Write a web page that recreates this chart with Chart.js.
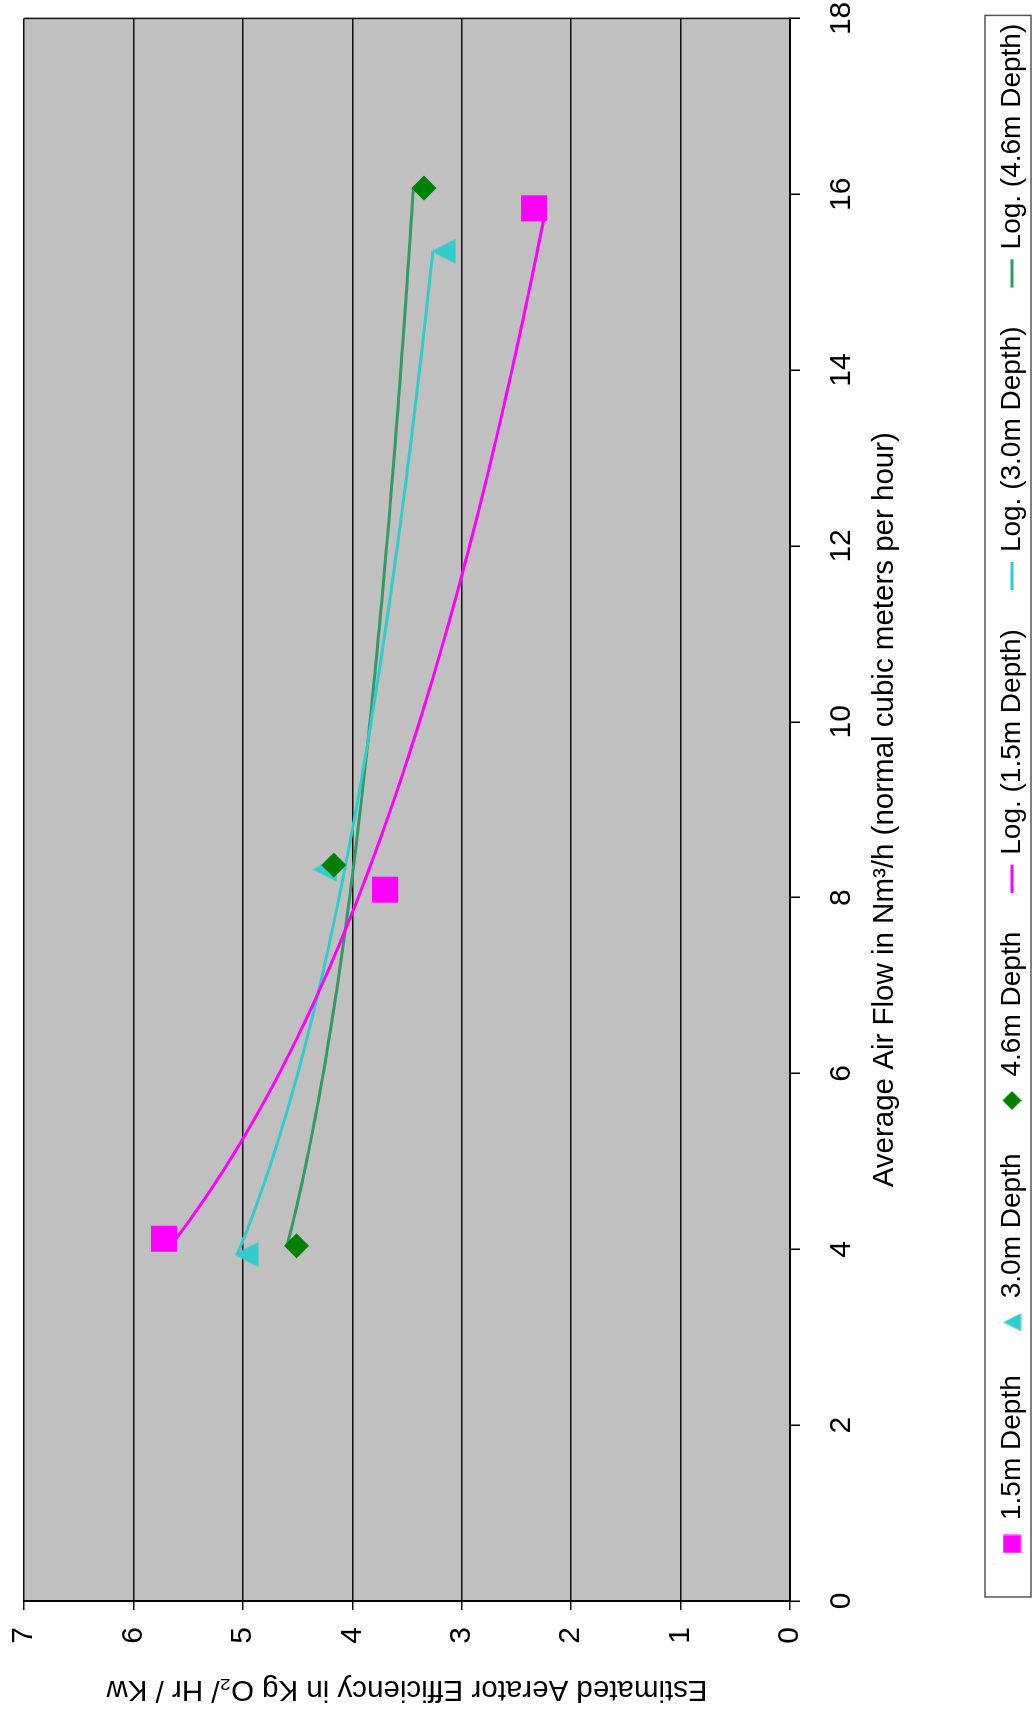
<!DOCTYPE html>
<html>
<head>
<meta charset="utf-8">
<title>Aerator efficiency vs air flow</title>
<script src="https://cdn.jsdelivr.net/npm/chart.js@4.4.1/dist/chart.umd.min.js"></script>
<style>
  html, body { margin: 0; padding: 0; background: #fff; overflow: hidden; }
  #page { position: absolute; left: 0; top: 0; width: 1032px; height: 1717px; overflow: hidden; }
  /* the chart is laid out landscape and turned a quarter turn counter-clockwise */
  #frame { position: absolute; left: 0; top: 0; width: 1717px; height: 1032px;
           transform-origin: 0 0; transform: translate(0, 1717px) rotate(-90deg); }
  canvas { display: block; }
</style>
</head>
<body>
<div id="page"><div id="frame"><canvas id="chart" width="1717" height="1032"></canvas></div></div>
<script>
// Measured aerator data: air flow (Nm3/h) and efficiency (kg O2 / hr / kW)
const flow15 = [4.12, 8.09, 15.84];
const eff15  = [5.72, 3.70, 2.34];
const flow30 = [3.94, 8.32, 15.35];
const eff30  = [4.97, 4.25, 3.165];
const flow46 = [4.04, 8.37, 16.07];
const eff46  = [4.51, 4.17, 3.345];

const seriesLabels = ['1.5m Depth', '3.0m Depth', '4.6m Depth'];
const trendLabels  = ['Log. (1.5m Depth)', 'Log. (3.0m Depth)', 'Log. (4.6m Depth)'];
const flowTicks = [0, 2, 4, 6, 8, 10, 12, 14, 16, 18];
const effTicks  = [0, 1, 2, 3, 4, 5, 6, 7];
const xTitle = 'Average Air Flow in Nm\u00B3/h (normal cubic meters per hour)';
const yTitle = 'Estimated Aerator Efficiency in Kg O\u2082/ Hr / Kw';

const markerColors = ['#FF00FF', '#33CCCC', '#008000'];
const trendColors  = ['#FF00FF', '#33CCCC', '#339966'];

Chart.defaults.font.family = "'Liberation Sans', Arial, Helvetica, sans-serif";
Chart.defaults.color = '#000';

// least-squares fit y = a ln(x) + b, as used by a logarithmic trendline
function logFit(xs, ys) {
  const lx = xs.map(Math.log);
  const n = xs.length;
  const mx = lx.reduce((s, v) => s + v, 0) / n;
  const my = ys.reduce((s, v) => s + v, 0) / n;
  let sxy = 0, sxx = 0;
  for (let i = 0; i < n; i++) {
    sxy += (lx[i] - mx) * (ys[i] - my);
    sxx += (lx[i] - mx) * (lx[i] - mx);
  }
  const a = sxy / sxx;
  return { a, b: my - a * mx };
}

function trendPoints(xs, ys, steps) {
  const { a, b } = logFit(xs, ys);
  const x0 = Math.min(...xs), x1 = Math.max(...xs);
  const pts = [];
  for (let i = 0; i <= steps; i++) {
    const x = x0 + (x1 - x0) * i / steps;
    pts.push({ x, y: a * Math.log(x) + b });
  }
  return pts;
}

function toPoints(xs, ys) { return xs.map((x, i) => ({ x, y: ys[i] })); }

// filled marker shapes drawn into small canvases, centred on their box
function shapeIcon(kind, color, w, h) {
  const c = document.createElement('canvas');
  c.width = w; c.height = h;
  const g = c.getContext('2d');
  g.fillStyle = color;
  g.beginPath();
  if (kind === 'square') {
    g.rect(0.5, 0.5, w - 1, h - 1);
  } else if (kind === 'triangle') {
    g.moveTo(w / 2, 0.5); g.lineTo(w - 0.5, h - 0.5); g.lineTo(0.5, h - 0.5);
  } else {
    g.moveTo(w / 2, 0); g.lineTo(w, h / 2); g.lineTo(w / 2, h); g.lineTo(0, h / 2);
  }
  g.closePath();
  g.fill();
  return c;
}
const keyIcons = [
  shapeIcon('square', markerColors[0], 19, 19),
  shapeIcon('triangle', markerColors[1], 19, 19),
  shapeIcon('diamond', markerColors[2], 19, 19)
];
const triangleMarker = shapeIcon('triangle', markerColors[1], 26, 25);

const flows = [flow15, flow30, flow46];
const effs  = [eff15, eff30, eff46];
const markerStyles = [
  { pointStyle: 'rect', pointRadius: 18.4 },
  { pointStyle: triangleMarker, pointRadius: 13 },
  { pointStyle: 'rectRot', pointRadius: 12.5 }
];

// lower "order" is painted later: markers above trendlines, later series above earlier ones
const datasets = [];
for (let i = 0; i < 3; i++) {
  datasets.push({
    label: seriesLabels[i],
    data: toPoints(flows[i], effs[i]),
    order: 3 - i,
    showLine: false,
    pointStyle: markerStyles[i].pointStyle,
    pointRadius: markerStyles[i].pointRadius,
    pointHoverRadius: markerStyles[i].pointRadius,
    backgroundColor: markerColors[i],
    borderColor: markerColors[i],
    borderWidth: 0
  });
}
for (let i = 0; i < 3; i++) {
  datasets.push({
    label: trendLabels[i],
    data: trendPoints(flows[i], effs[i], 120),
    order: 4 + i,
    showLine: true,
    pointRadius: 0,
    pointHoverRadius: 0,
    borderColor: trendColors[i],
    backgroundColor: trendColors[i],
    borderWidth: 3,
    tension: 0,
    fill: false
  });
}

const LEGEND_PAD = 43;

const plotFrame = {
  id: 'plotFrame',
  afterLayout(chart) {
    // place the legend row inside its framed box
    const lg = chart.legend;
    if (!lg || !lg.lineWidths) return;
    const a = chart.chartArea;
    const startX = (lg.left + LEGEND_PAD + lg.right - lg.lineWidths[0]) / 2;
    const dx = a.left + 47 - startX;
    lg.left += dx; lg.right += dx;
    lg.top += 4; lg.bottom += 4;
  },
  beforeDraw(chart) {
    const { ctx, chartArea: a } = chart;
    ctx.save();
    ctx.fillStyle = '#C0C0C0';
    ctx.fillRect(a.left, a.top, a.right - a.left, a.bottom - a.top);
    ctx.restore();
  },
  beforeDatasetsDraw(chart) {
    const { ctx, chartArea: a } = chart;
    ctx.save();
    ctx.strokeStyle = '#111';
    ctx.lineWidth = 1.5;
    ctx.beginPath();
    ctx.moveTo(a.right, a.top);
    ctx.lineTo(a.right, a.bottom);
    ctx.stroke();
    ctx.restore();
  },
  afterDraw(chart) {
    const { ctx, chartArea: a } = chart;
    ctx.save();
    ctx.strokeStyle = '#555';
    ctx.lineWidth = 1.5;
    const top = a.bottom + 195;
    ctx.strokeRect(a.left + 4, top, (a.right + 3) - (a.left + 4), chart.height - 1 - top);
    ctx.restore();
  }
};

new Chart(document.getElementById('chart'), {
  type: 'scatter',
  data: { datasets },
  options: {
    responsive: false,
    animation: false,
    events: [],
    layout: { padding: 0 },
    scales: {
      x: {
        type: 'linear',
        position: 'bottom',
        min: 0, max: 18,
        afterBuildTicks: s => { s.ticks = flowTicks.map(v => ({ value: v })); },
        afterFit: s => { s.height = 161; s.paddingLeft = 0; s.paddingRight = 16.4; },
        grid: { display: true, drawOnChartArea: false, drawTicks: true, tickLength: 10, color: '#000', lineWidth: 1.5 },
        border: { display: true, color: '#000', width: 2 },
        ticks: { font: { size: 30 }, padding: 24, maxRotation: 0, autoSkip: false, color: '#000' },
        title: { display: true, text: xTitle, font: { size: 29.5 }, color: '#000', padding: { top: 0, bottom: 48 } }
      },
      y: {
        type: 'linear',
        position: 'left',
        min: 0, max: 7,
        afterBuildTicks: s => { s.ticks = effTicks.map(v => ({ value: v })); },
        afterFit: s => { s.width = 116; s.paddingTop = 24; s.paddingBottom = 0; },
        grid: { display: true, drawOnChartArea: true, drawTicks: true, tickLength: 9, color: '#111', lineWidth: 1.5 },
        border: { display: true, color: '#000', width: 2 },
        ticks: { font: { size: 30 }, padding: 17, autoSkip: false, color: '#000' },
        title: { display: true, text: yTitle, font: { size: 29.5 }, color: '#000', padding: { top: 10, bottom: 0 } }
      }
    },
    plugins: {
      tooltip: { enabled: false },
      legend: {
        display: true,
        position: 'bottom',
        align: 'center',
        labels: {
          font: { size: 28 },
          color: '#000',
          usePointStyle: true,
          boxWidth: 20,
          boxHeight: 20,
          padding: LEGEND_PAD,
          generateLabels(chart) {
            return chart.data.datasets.map((ds, i) => ({
              text: ds.label,
              datasetIndex: i,
              fillStyle: ds.backgroundColor,
              strokeStyle: ds.borderColor,
              lineWidth: ds.showLine ? 3 : 0,
              pointStyle: ds.showLine ? 'line' : keyIcons[i],
              hidden: false,
              fontColor: '#000'
            }));
          }
        }
      }
    }
  },
  plugins: [plotFrame]
});
</script>
</body>
</html>
